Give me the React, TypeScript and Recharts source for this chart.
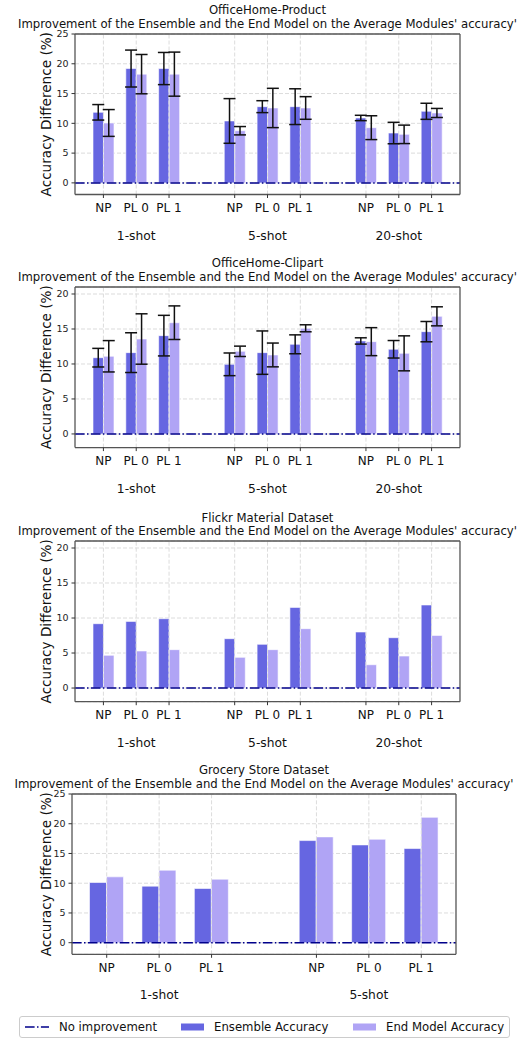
import React from "react";
import { BarChart, Bar, XAxis, YAxis, CartesianGrid, ReferenceLine, ErrorBar } from "recharts";

const FONT = '"DejaVu Sans", sans-serif';
const ENS_COLOR = "#6666e1";
const END_COLOR = "#b0a4f5";
const ZERO_COLOR = "#00008b";
const GRID = "#dcdcdc";
const FRAME = "#555";

const METHODS = ["NP", "PL 0", "PL 1"];
const SHOTS_3 = ["1-shot", "5-shot", "20-shot"];
const SHOTS_2 = ["1-shot", "5-shot"];
const TICKS_25 = [0, 5, 10, 15, 20, 25];
const TICKS_20 = [0, 5, 10, 15, 20];

// OfficeHome-Product
const PRODUCT_ENS = [11.85, 19.2, 19.2, 10.4, 12.8, 12.8, 10.9, 8.37, 12.02];
const PRODUCT_ENS_ERR = [1.3, 3.1, 2.7, 3.75, 1.0, 3.0, 0.45, 1.8, 1.35];
const PRODUCT_END = [10.06, 18.26, 18.26, 8.76, 12.58, 12.58, 9.27, 8.15, 11.74];
const PRODUCT_END_ERR = [2.25, 3.3, 3.7, 0.7, 3.3, 1.9, 2.0, 1.55, 0.76];

// OfficeHome-Clipart
const CLIPART_ENS = [10.9, 11.62, 14.05, 9.95, 11.62, 12.81, 13.29, 12.1, 14.62];
const CLIPART_ENS_ERR = [1.33, 2.84, 2.9, 1.62, 3.1, 1.35, 0.45, 1.25, 1.45];
const CLIPART_END = [11.1, 13.57, 15.9, 11.81, 11.29, 15.1, 13.19, 11.52, 16.81];
const CLIPART_END_ERR = [2.24, 3.6, 2.4, 0.74, 1.7, 0.5, 2.0, 2.5, 1.36];

// Flickr Material
const FLICKR_ENS = [9.19, 9.52, 9.9, 7.05, 6.24, 11.52, 8.0, 7.19, 11.86];
const FLICKR_END = [4.67, 5.29, 5.48, 4.38, 5.48, 8.48, 3.33, 4.57, 7.52];

// Grocery Store
const GROCERY_ENS = [10.12, 9.51, 9.12, 17.17, 16.44, 15.83];
const GROCERY_END = [11.07, 12.19, 10.68, 17.79, 17.39, 21.08];

type Row = { key: string; ens?: number; end?: number; ensErr?: number; endErr?: number };

function buildRows(shots: string[], ens: number[], end: number[], ensErr?: number[], endErr?: number[]) {
  const rows: Row[] = [];
  shots.forEach((shot, g) => {
    if (g > 0) rows.push({ key: `gap${g}` });
    METHODS.forEach((m, i) => {
      const k = g * 3 + i;
      rows.push({ key: `${shot}|${m}`, ens: ens[k], end: end[k], ensErr: ensErr?.[k], endErr: endErr?.[k] });
    });
  });
  return rows;
}

function ShotTick(props: any) {
  const { x, y, payload } = props;
  const key: string = payload.value;
  if (key.startsWith("gap")) return <g />;
  const [shot, method] = key.split("|");
  return (
    <g fontFamily={FONT}>
      <line x1={x} x2={x} y1={y} y2={y + 3.5} stroke="#333" strokeWidth={1} />
      <text x={x} y={y + 13.5} textAnchor="middle" dominantBaseline="central" fontSize={12} fill="#111">
        {method}
      </text>
      {method === "PL 0" ? (
        <text x={x} y={y + 41} textAnchor="middle" dominantBaseline="central" fontSize={12.3} fill="#111">
          {shot}
        </text>
      ) : null}
    </g>
  );
}

function YTitle(props: any) {
  const { viewBox } = props;
  const cx = 46;
  const cy = viewBox.y + viewBox.height / 2;
  return (
    <text
      x={cx}
      y={cy}
      transform={`rotate(-90 ${cx} ${cy})`}
      textAnchor="middle"
      dominantBaseline="central"
      fontFamily={FONT}
      fontSize={13.6}
      fill="#111"
    >
      Accuracy Difference (%)
    </text>
  );
}

function Panel({
  title,
  rows,
  plotTop,
  plotBottom,
  plotLeft,
  plotRight,
  yMax,
  yTicks,
  pad,
  barSize,
  errors,
}: {
  title: string;
  rows: Row[];
  plotTop: number;
  plotBottom: number;
  plotLeft: number;
  plotRight: number;
  yMax: number;
  yTicks: number[];
  pad: number;
  barSize: number;
  errors: boolean;
}) {
  const plotH = plotBottom - plotTop;
  const height = 10 + plotH + 55;
  const cats = rows.filter((r) => !r.key.startsWith("gap")).map((r) => r.key);
  const yMin = -1.95;
  return (
    <>
      <div
        style={{
          position: "absolute",
          left: (plotLeft + plotRight) / 2,
          top: plotTop - 29.5,
          transform: "translateX(-50%)",
          whiteSpace: "nowrap",
          textAlign: "center",
          fontSize: 11.7,
          lineHeight: "13.5px",
          color: "#111",
        }}
      >
        {title}
        <br />
        Improvement of the Ensemble and the End Model on the Average Modules' accuracy'
      </div>
      <div style={{ position: "absolute", left: 0, top: plotTop - 10 }}>
        <BarChart
          width={523}
          height={height}
          data={rows}
          margin={{ top: 9, right: 523 - plotRight - 1, bottom: 0, left: 0 }}
          barGap={0}
          style={{ fontFamily: FONT }}
        >
          <CartesianGrid vertical={false} stroke={GRID} strokeDasharray="4 2" yAxisId="l" />
          <XAxis
            dataKey="key"
            type="category"
            padding={{ left: pad, right: pad }}
            height={55}
            interval={0}
            tickSize={0}
            tickMargin={0}
            tickLine={false}
            axisLine={{ stroke: FRAME, strokeWidth: 1.3 }}
            tick={<ShotTick />}
          />
          <XAxis
            xAxisId="top"
            orientation="top"
            dataKey="key"
            height={1}
            tick={false}
            tickLine={false}
            axisLine={{ stroke: FRAME, strokeWidth: 1.3 }}
          />
          <YAxis
            yAxisId="l"
            width={plotLeft}
            type="number"
            domain={[yMin, yMax]}
            ticks={yTicks}
            allowDataOverflow
            tickSize={3.5}
            tickMargin={3}
            tickLine={{ stroke: "#333" }}
            axisLine={{ stroke: FRAME, strokeWidth: 1.3 }}
            tick={{ fontSize: 9.5, fill: "#222", fontFamily: FONT }}
            label={<YTitle />}
          />
          <YAxis
            yAxisId="r"
            orientation="right"
            width={1}
            type="number"
            domain={[yMin, yMax]}
            tick={false}
            tickLine={false}
            axisLine={{ stroke: FRAME, strokeWidth: 1.3 }}
          />
          {cats.map((c) => (
            <ReferenceLine key={c} x={c} yAxisId="l" stroke={GRID} strokeDasharray="4 2" />
          ))}
          <Bar
            yAxisId="l"
            dataKey="ens"
            name="Ensemble Accuracy"
            fill={ENS_COLOR}
            stroke="#fff"
            strokeWidth={0.6}
            barSize={barSize}
            isAnimationActive={false}
          >
            {errors ? <ErrorBar dataKey="ensErr" width={6} stroke="#111" strokeWidth={1.5} direction="y" /> : null}
          </Bar>
          <Bar
            yAxisId="l"
            dataKey="end"
            name="End Model Accuracy"
            fill={END_COLOR}
            stroke="#fff"
            strokeWidth={0.6}
            barSize={barSize}
            isAnimationActive={false}
          >
            {errors ? <ErrorBar dataKey="endErr" width={6} stroke="#111" strokeWidth={1.5} direction="y" /> : null}
          </Bar>
          <ReferenceLine
            y={0}
            yAxisId="l"
            stroke={ZERO_COLOR}
            strokeWidth={1.5}
            strokeDasharray="9.6 2.4 1.5 2.4"
          />
        </BarChart>
      </div>
    </>
  );
}

function LegendBox() {
  return (
    <div
      style={{
        position: "absolute",
        left: 19,
        top: 1016,
        width: 489,
        height: 20,
        border: "1px solid #ccc",
        borderRadius: 3,
        fontSize: 11.7,
        color: "#111",
      }}
    >
      <svg width={489} height={20} style={{ position: "absolute", left: 0, top: 0, fontFamily: FONT }}>
        <line x1={5} x2={29} y1={10} y2={10} stroke={ZERO_COLOR} strokeWidth={1.5} strokeDasharray="9.6 2.4 1.5 2.4" />
        <text x={39} y={10} dominantBaseline="central" fontSize={11.7} fill="#111">No improvement</text>
        <rect x={161} y={6.5} width={23} height={7} fill={ENS_COLOR} />
        <text x={194} y={10} dominantBaseline="central" fontSize={11.7} fill="#111">Ensemble Accuracy</text>
        <rect x={333} y={6.5} width={23} height={7} fill={END_COLOR} />
        <text x={366} y={10} dominantBaseline="central" fontSize={11.7} fill="#111">End Model Accuracy</text>
      </svg>
    </div>
  );
}

export default function App() {
  return (
    <div
      style={{
        position: "absolute",
        left: 0,
        top: 0,
        width: 523,
        height: 1038,
        background: "#fff",
        fontFamily: FONT,
        overflow: "hidden",
      }}
    >
      <Panel
        title="OfficeHome-Product"
        rows={buildRows(SHOTS_3, PRODUCT_ENS, PRODUCT_END, PRODUCT_ENS_ERR, PRODUCT_END_ERR)}
        plotTop={33.5}
        plotBottom={194}
        plotLeft={75}
        plotRight={460}
        yMax={25}
        yTicks={TICKS_25}
        pad={12}
        barSize={10.5}
        errors
      />
      <Panel
        title="OfficeHome-Clipart"
        rows={buildRows(SHOTS_3, CLIPART_ENS, CLIPART_END, CLIPART_ENS_ERR, CLIPART_END_ERR)}
        plotTop={286.7}
        plotBottom={447.3}
        plotLeft={75}
        plotRight={460}
        yMax={21}
        yTicks={TICKS_20}
        pad={12}
        barSize={10.5}
        errors
      />
      <Panel
        title="Flickr Material Dataset"
        rows={buildRows(SHOTS_3, FLICKR_ENS, FLICKR_END)}
        plotTop={541}
        plotBottom={701.7}
        plotLeft={75}
        plotRight={460}
        yMax={21}
        yTicks={TICKS_20}
        pad={12}
        barSize={10.5}
        errors={false}
      />
      <Panel
        title="Grocery Store Dataset"
        rows={buildRows(SHOTS_2, GROCERY_ENS, GROCERY_END)}
        plotTop={793.7}
        plotBottom={954}
        plotLeft={72}
        plotRight={456}
        yMax={25}
        yTicks={TICKS_25}
        pad={8.5}
        barSize={17}
        errors={false}
      />
      <LegendBox />
    </div>
  );
}
